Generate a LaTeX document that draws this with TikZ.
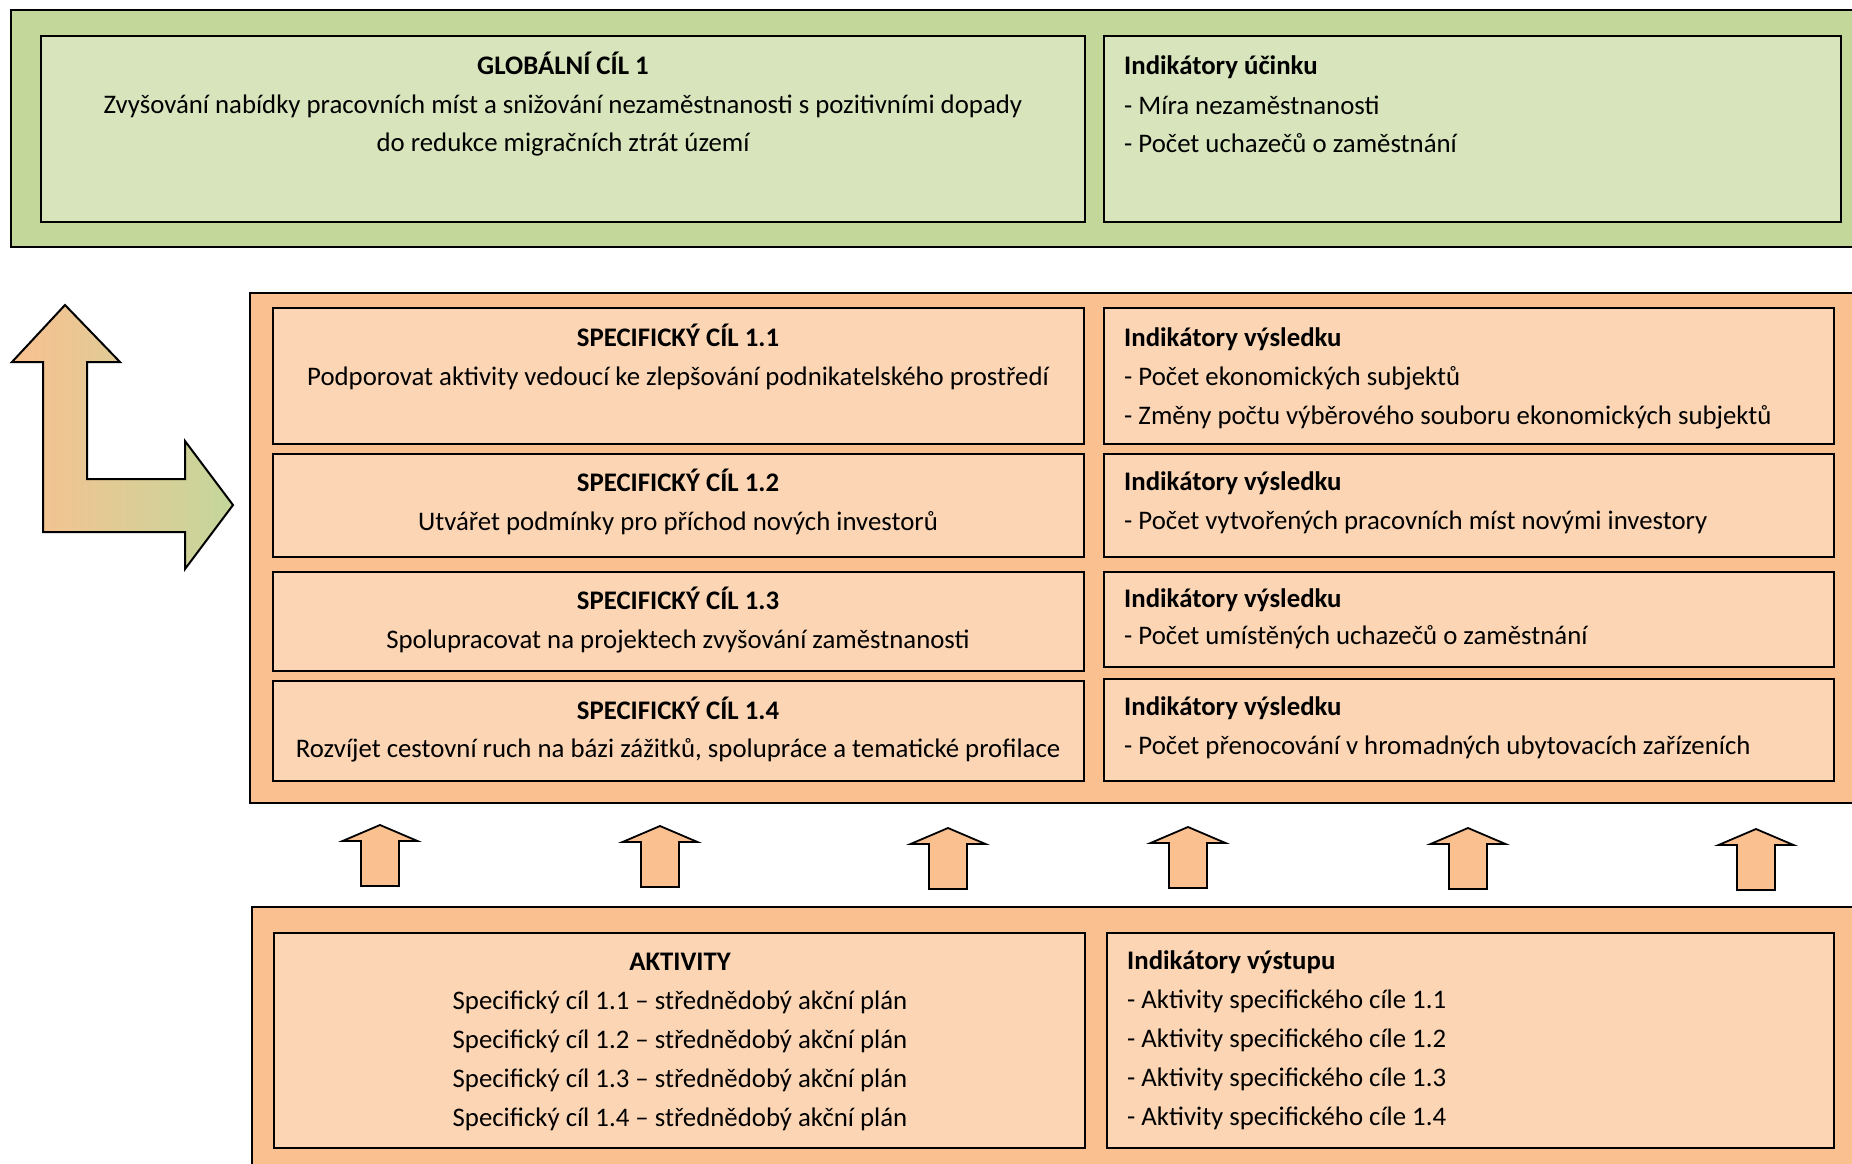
\documentclass[tikz,border=0pt]{standalone}
\usepackage{fontspec}
\setmainfont{Carlito}
\definecolor{gOuter}{HTML}{C4D79B}
\definecolor{gInner}{HTML}{D8E4BC}
\definecolor{oOuter}{HTML}{FAC090}
\definecolor{oInner}{HTML}{FCD5B4}
\begin{document}
\begin{tikzpicture}[x=1pt,y=-1pt,
  frame/.style={draw=black,line width=2pt},
  txt/.style={inner sep=0pt,font=\fontsize{26.8}{30}\selectfont},
  ctitle/.style={txt,anchor=mid,font=\fontsize{26.8}{30}\selectfont\bfseries},
  cline/.style={txt,anchor=mid},
  ltitle/.style={txt,anchor=mid west,font=\fontsize{26.8}{30}\selectfont\bfseries},
  lline/.style={txt,anchor=mid west},
  uparrow/.style={draw=black,line width=1.8pt,fill=oOuter,line join=miter}]
\clip (0,0) rectangle (1852,1164);
\fill[white] (0,0) rectangle (1852,1164);

% ---------- top (green) block ----------
\draw[frame,fill=gOuter] (11,10) rectangle (1900,247);
\draw[frame,fill=gInner] (41,36) rectangle (1085,222);
\draw[frame,fill=gInner] (1104,36) rectangle (1841,222);
\node[ctitle] (g1t) at (563,72) {GLOBÁLNÍ CÍL 1};
\node[cline] (g1a) at (563,111) {Zvyšování nabídky pracovních míst a snižování nezaměstnanosti s pozitivními dopady};
\node[cline] (g1b) at (563,149) {do redukce migračních ztrát území};
\node[ltitle] (g1it) at (1124,72) {Indikátory účinku};
\node[lline] (g1ia) at (1124,112) {- Míra nezaměstnanosti};
\node[lline] (g1ib) at (1124,150) {- Počet uchazečů o zaměstnání};

% ---------- middle (orange) block ----------
\draw[frame,fill=oOuter] (250,293) rectangle (1900,803);
\draw[frame,fill=oInner] (273,308) rectangle (1084,444);
\draw[frame,fill=oInner] (1104,308) rectangle (1834,444);
\draw[frame,fill=oInner] (273,454) rectangle (1084,557);
\draw[frame,fill=oInner] (1104,454) rectangle (1834,557);
\draw[frame,fill=oInner] (273,572) rectangle (1084,671);
\draw[frame,fill=oInner] (1104,572) rectangle (1834,667);
\draw[frame,fill=oInner] (273,681) rectangle (1084,781);
\draw[frame,fill=oInner] (1104,679) rectangle (1834,781);

\node[ctitle] (s1t) at (678,344) {SPECIFICKÝ CÍL 1.1};
\node[cline]  (s1a) at (678,383) {Podporovat aktivity vedoucí ke zlepšování podnikatelského prostředí};
\node[ltitle] (s1it) at (1124,344) {Indikátory výsledku};
\node[lline]  (s1ia) at (1124,383) {- Počet ekonomických subjektů};
\node[lline]  (s1ib) at (1124,422) {- Změny počtu výběrového souboru ekonomických subjektů};

\node[ctitle] (s2t) at (678,489) {SPECIFICKÝ CÍL 1.2};
\node[cline]  (s2a) at (678,528) {Utvářet podmínky pro příchod nových investorů};
\node[ltitle] (s2it) at (1124,488) {Indikátory výsledku};
\node[lline]  (s2ia) at (1124,527) {- Počet vytvořených pracovních míst novými investory};

\node[ctitle] (s3t) at (678,607) {SPECIFICKÝ CÍL 1.3};
\node[cline]  (s3a) at (678,646) {Spolupracovat na projektech zvyšování zaměstnanosti};
\node[ltitle] (s3it) at (1124,605) {Indikátory výsledku};
\node[lline]  (s3ia) at (1124,642) {- Počet umístěných uchazečů o zaměstnání};

\node[ctitle] (s4t) at (678,717) {SPECIFICKÝ CÍL 1.4};
\node[cline]  (s4a) at (678,755) {Rozvíjet cestovní ruch na bázi zážitků, spolupráce a tematické profilace};
\node[ltitle] (s4it) at (1124,713) {Indikátory výsledku};
\node[lline]  (s4ia) at (1124,752) {- Počet přenocování v hromadných ubytovacích zařízeních};

% ---------- bottom (orange) block ----------
\draw[frame,fill=oOuter] (252,907) rectangle (1900,1200);
\draw[frame,fill=oInner] (274,933) rectangle (1085,1148);
\draw[frame,fill=oInner] (1107,933) rectangle (1834,1148);
\node[ctitle] (at) at (680,968) {AKTIVITY};
\node[cline] (a1) at (680,1007) {Specifický cíl 1.1 -- střednědobý akční plán};
\node[cline] (a2) at (680,1046) {Specifický cíl 1.2 -- střednědobý akční plán};
\node[cline] (a3) at (680,1085) {Specifický cíl 1.3 -- střednědobý akční plán};
\node[cline] (a4) at (680,1124) {Specifický cíl 1.4 -- střednědobý akční plán};
\node[ltitle] (ait) at (1127,967) {Indikátory výstupu};
\node[lline] (ai1) at (1127,1006) {- Aktivity specifického cíle 1.1};
\node[lline] (ai2) at (1127,1045) {- Aktivity specifického cíle 1.2};
\node[lline] (ai3) at (1127,1084) {- Aktivity specifického cíle 1.3};
\node[lline] (ai4) at (1127,1123) {- Aktivity specifického cíle 1.4};

% ---------- small up arrows ----------
\foreach \cx/\ty in {380/825, 660/826, 948/828, 1188/827, 1468/828, 1756/829}{
  \draw[uparrow] (\cx,\ty) -- (\cx+37.5,\ty+16) -- (\cx+19,\ty+16) -- (\cx+19,\ty+61)
     -- (\cx-19,\ty+61) -- (\cx-19,\ty+16) -- (\cx-37.5,\ty+16) -- cycle;
}

% ---------- L-shaped gradient arrow ----------
\draw[line width=2pt,left color=oOuter,right color=gOuter,line join=miter]
  (65,305) -- (120,362) -- (87,362) -- (87,479) -- (185,479) -- (185,441)
  -- (233,505) -- (185,569) -- (185,532) -- (43,532) -- (43,362) -- (12,362) -- cycle;
\end{tikzpicture}
\end{document}
